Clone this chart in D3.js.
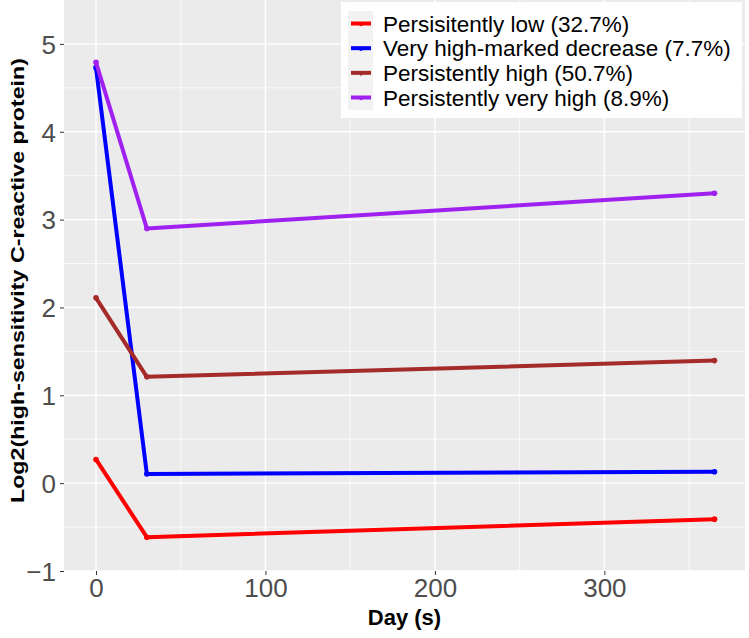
<!DOCTYPE html>
<html>
<head>
<meta charset="utf-8">
<script src="https://cdn.jsdelivr.net/npm/d3@7"></script>
<style>
  body { margin: 0; background: #fff; }
  text { font-family: "Liberation Sans", Arial, sans-serif; }
</style>
</head>
<body>
<div id="chart"></div>
<script>
// group labels and colours, in legend order
let groups = ["Persisitently low (32.7%)", "Very high-marked decrease (7.7%)",
              "Persistently high (50.7%)", "Persistently very high (8.9%)"];
let colors = ["#FF0000", "#0000FF", "#A52A2A", "#A020F0"];

// measurement days, same for every group
let days = [0, 30, 365];

// log2 hs-CRP per group
let lowValues      = [0.27, -0.615, -0.41];
let decreaseValues = [4.73, 0.105, 0.13];
let highValues     = [2.11, 1.21, 1.395];
let veryHighValues = [4.79, 2.90, 3.30];

let xTicks = [0, 100, 200, 300];
let yTicks = [-1, 0, 1, 2, 3, 4, 5];

let series = [lowValues, decreaseValues, highValues, veryHighValues].map(function(vals, i) {
  return { name: groups[i], color: colors[i],
           points: vals.map(function(v, j) { return { day: days[j], value: v }; }) };
});

let width = 749, height = 638;
let panel = { left: 64, right: 745, top: 0, bottom: 571 };

let x = d3.scaleLinear().domain([0, 365]).range([96, 714.5]);
let y = d3.scaleLinear().domain([-1, 5.5]).range([panel.bottom, panel.top]);

let svg = d3.select("#chart").append("svg")
  .attr("width", width)
  .attr("height", height);

// panel background
svg.append("rect")
  .attr("x", panel.left).attr("y", panel.top)
  .attr("width", panel.right - panel.left)
  .attr("height", panel.bottom - panel.top)
  .attr("fill", "#EBEBEB");

// minor grid
let grid = svg.append("g").attr("stroke", "#fff");
[50, 150, 250, 350].forEach(function(d) {
  grid.append("line")
    .attr("x1", x(d)).attr("x2", x(d))
    .attr("y1", panel.top).attr("y2", panel.bottom)
    .attr("stroke-width", 0.7);
});
d3.range(-0.5, 5.5, 1).forEach(function(d) {
  grid.append("line")
    .attr("x1", panel.left).attr("x2", panel.right)
    .attr("y1", y(d)).attr("y2", y(d))
    .attr("stroke-width", 0.7);
});
// major grid
xTicks.forEach(function(d) {
  grid.append("line")
    .attr("x1", x(d)).attr("x2", x(d))
    .attr("y1", panel.top).attr("y2", panel.bottom)
    .attr("stroke-width", 1.4);
});
yTicks.forEach(function(d) {
  grid.append("line")
    .attr("x1", panel.left).attr("x2", panel.right)
    .attr("y1", y(d)).attr("y2", y(d))
    .attr("stroke-width", 1.4);
});

// axes (d3 axes, restyled ggplot-like)
let xAxis = svg.append("g")
  .attr("transform", "translate(0," + panel.bottom + ")")
  .call(d3.axisBottom(x).tickValues(xTicks).tickSize(4).tickPadding(4).tickFormat(d3.format("d")));
let yAxis = svg.append("g")
  .attr("transform", "translate(" + panel.left + ",0)")
  .call(d3.axisLeft(y).tickValues(yTicks).tickSize(4).tickPadding(4).tickFormat(d3.format("d")));

[xAxis, yAxis].forEach(function(ax) {
  ax.select(".domain").remove();
  ax.selectAll(".tick line").attr("stroke", "#333").attr("stroke-width", 1);
  ax.selectAll(".tick text")
    .attr("fill", "#4D4D4D")
    .style("font-size", "26px")
    .style("font-family", "'Liberation Sans', Arial, sans-serif");
});
yAxis.selectAll(".tick text").attr("dy", "0.36em");

// lines
let line = d3.line()
  .x(function(d) { return x(d.day); })
  .y(function(d) { return y(d.value); });

let lines = svg.append("g");
series.forEach(function(s) {
  lines.append("path")
    .datum(s.points)
    .attr("d", line)
    .attr("fill", "none")
    .attr("stroke", s.color)
    .attr("stroke-width", 4)
    .attr("stroke-linejoin", "round");
  lines.selectAll(null)
    .data(s.points)
    .enter().append("circle")
    .attr("cx", function(d) { return x(d.day); })
    .attr("cy", function(d) { return y(d.value); })
    .attr("r", 2.8)
    .attr("fill", s.color);
});

// axis titles
svg.append("text")
  .attr("x", (panel.left + panel.right) / 2)
  .attr("y", 625)
  .attr("text-anchor", "middle")
  .attr("font-weight", "bold")
  .style("font-size", "22px")
  .text("Day (s)");

// reference title is stretched along its length, so force its span
svg.append("text")
  .attr("transform", "translate(23.5,280.5) rotate(-90)")
  .attr("text-anchor", "middle")
  .attr("font-weight", "bold")
  .style("font-size", "19px")
  .attr("textLength", 445)
  .attr("lengthAdjust", "spacingAndGlyphs")
  .text("Log2(high-sensitivity C-reactive protein)");

// legend
let legend = svg.append("g");
legend.append("rect")
  .attr("x", 341).attr("y", 2)
  .attr("width", 401).attr("height", 116)
  .attr("fill", "#fff");

let rowY = d3.scaleLinear().domain([0, 3]).range([23.5, 97.5]);
series.forEach(function(s, i) {
  let ry = rowY(i);
  legend.append("rect")
    .attr("x", 348).attr("y", ry - 12.4)
    .attr("width", 25).attr("height", 24.8)
    .attr("fill", "#F2F2F2");
  legend.append("line")
    .attr("x1", 351).attr("x2", 371)
    .attr("y1", ry).attr("y2", ry)
    .attr("stroke", s.color)
    .attr("stroke-width", 4);
  legend.append("circle")
    .attr("cx", 361).attr("cy", ry + 1)
    .attr("r", 1.8)
    .attr("fill", s.color);
  legend.append("text")
    .attr("x", 383)
    .attr("y", ry + 8)
    .style("font-size", "22.5px")
    .attr("fill", "#000")
    .text(s.name);
});
</script>
</body>
</html>
